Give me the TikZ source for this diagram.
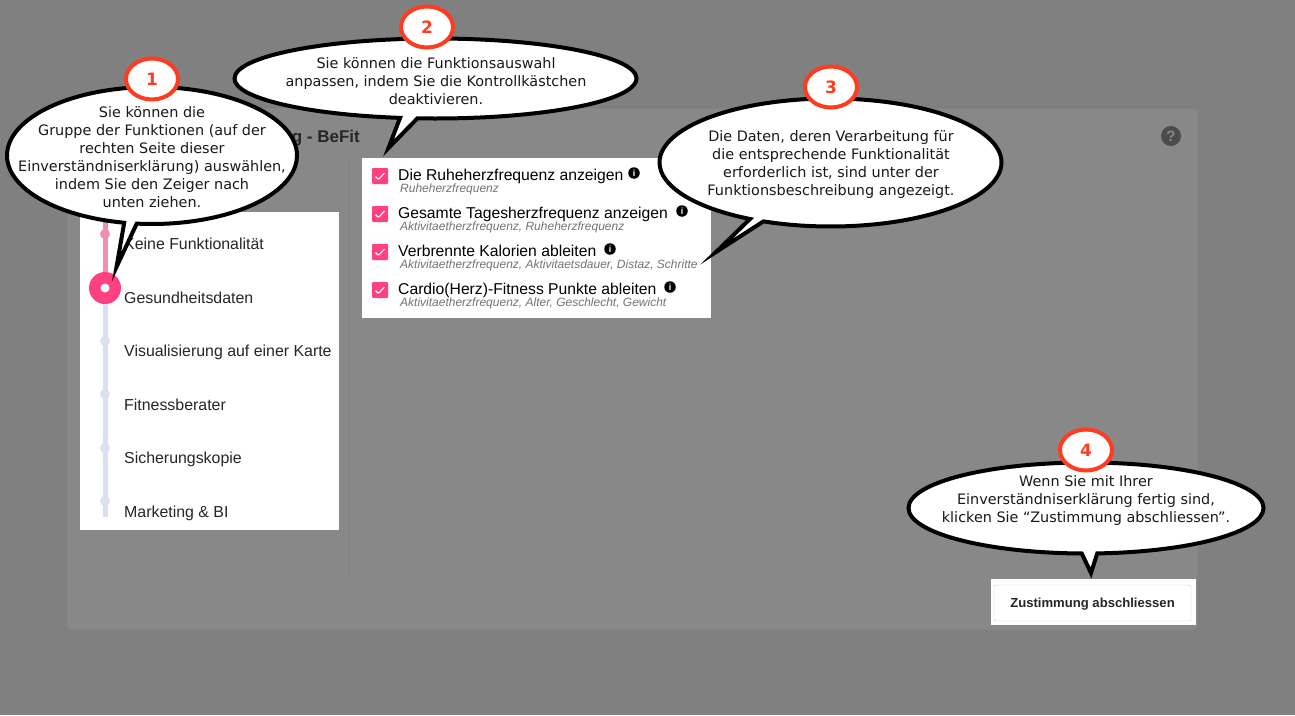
\documentclass[tikz,border=0pt]{standalone}
\usepackage{fontspec}
\setmainfont{Liberation Sans}
\newfontfamily\bubblefont{DejaVu Sans}
\usepackage{xcolor}
\usetikzlibrary{shapes.geometric,shapes.callouts,shadows,positioning}
\definecolor{pagegray}{HTML}{808080}
\definecolor{cardgray}{HTML}{888888}
\definecolor{hotpink}{HTML}{FF4081}
\definecolor{softpink}{HTML}{F08DB0}
\definecolor{softblue}{HTML}{D9E0F2}
\definecolor{badgered}{HTML}{FF3B20}
\tikzset{
    bubble/.style={ellipse callout, draw=black, fill=white, line width=4pt, miter limit=25,
        inner sep=0pt, callout pointer arc=5,
        drop shadow={shadow xshift=2pt, shadow yshift=2pt, opacity=.35}},
    bubbletext/.style={align=center, font=\bubblefont\fontsize{14.4}{18}\selectfont, text=black!90},
    badge/.style={ellipse, draw=badgered, fill=white, line width=4pt, minimum width=52pt,
        minimum height=41pt, inner sep=0pt, text=badgered,
        font=\bubblefont\bfseries\fontsize{17}{17}\selectfont},
    patch/.style={fill=white, draw=none, inner sep=0pt, anchor=north west},
    stopdot/.style={circle, minimum size=10pt, inner sep=0pt},
    steplabel/.style={anchor=base west, inner sep=0pt, text=black!85, font=\fontsize{15.9}{15.9}\selectfont},
    checkbox/.style={rectangle, rounded corners=1pt, fill=hotpink, minimum size=16pt, inner sep=0pt,
        path picture={\draw[white, line width=1.1pt]
            ([shift={(3.5pt,-8.5pt)}]path picture bounding box.north west)
            -- ++(3pt,-3pt) -- ++(6pt,6.5pt);}},
    itemlabel/.style={anchor=base west, inner sep=0pt, text=black, font=\fontsize{15.7}{15.7}\selectfont},
    itemnote/.style={anchor=base west, inner sep=0pt, text=black!55, font=\itshape\fontsize{12}{12}\selectfont},
    infodot/.style={circle, fill=black, minimum size=11.5pt, inner sep=0pt, text=white,
        font=\bfseries\fontsize{9}{9}\selectfont},
}
\begin{document}
\begin{tikzpicture}[x=1pt,y=-1pt]
    \useasboundingbox (0,0) rectangle (1295,715);
    \fill[pagegray] (0,0) rectangle (1295,715);
    \draw[cardgray!85!black, fill=cardgray, rounded corners=3pt] (67,108) rectangle (1198,630);
    \draw[black!50] (349,158) -- (349,578);
    \node[anchor=base east, inner sep=0pt, text=black!85, font=\fontsize{17}{17}\selectfont\bfseries] (title) at (360,142) {ng - BeFit};
    \node[circle, fill=black!70, minimum size=20pt, inner sep=0pt, text=cardgray, font=\bfseries\fontsize{15}{15}\selectfont] (help) at (1171,136) {?};
    % white areas
    \node[patch, minimum width=259pt, minimum height=318pt] (steps) at (80,212) {};
    \node[patch, minimum width=349pt, minimum height=160pt] (items) at (362,158) {};
    \node[patch, minimum width=205pt, minimum height=46pt] (finish) at (991,579) {};
    % slider
    \coordinate (railtop) at (105,215);
    \coordinate (railend) at (105,517);
    \node[stopdot, fill=softpink] (stopa) at (105,234) {};
    \node[circle, fill=hotpink, minimum size=32pt, inner sep=0pt] (stopb) at (105,288) {};
    \node[circle, fill=white, minimum size=9pt, inner sep=0pt] (stopbin) at (stopb) {};
    \node[stopdot, fill=softblue] (stopc) at (105,341) {};
    \node[stopdot, fill=softblue] (stopd) at (105,394) {};
    \node[stopdot, fill=softblue] (stope) at (105,448) {};
    \node[stopdot, fill=softblue] (stopf) at (105,501) {};
    \path (railtop) edge [softpink, line width=5pt] (stopb)
        (stopb) edge [softblue, line width=5pt] (railend);
    \node[steplabel] (stepa) at (124,249) {Keine Funktionalität};
    \node[steplabel] (stepb) at (124,303) {Gesundheitsdaten};
    \node[steplabel] (stepc) at (124,356) {Visualisierung auf einer Karte};
    \node[steplabel] (stepd) at (124,410) {Fitnessberater};
    \node[steplabel] (stepe) at (124,463) {Sicherungskopie};
    \node[steplabel] (stepf) at (124,517) {Marketing \& BI};
    % functions
    \node[checkbox] (boxa) at (380,176) {};
    \node[checkbox] (boxb) at (380,214) {};
    \node[checkbox] (boxc) at (380,252) {};
    \node[checkbox] (boxd) at (380,290) {};
    \node[itemlabel] (itema) at (398,180) {Die Ruheherzfrequenz anzeigen};
    \node[itemlabel] (itemb) at (398,218) {Gesamte Tagesherzfrequenz anzeigen};
    \node[itemlabel] (itemc) at (398,256) {Verbrennte Kalorien ableiten};
    \node[itemlabel] (itemd) at (398,294) {Cardio(Herz)-Fitness Punkte ableiten};
    \node[infodot] (infoa) at (634,173) {i};
    \node[infodot] (infob) at (682,211) {i};
    \node[infodot] (infoc) at (610,249) {i};
    \node[infodot] (infod) at (670,287) {i};
    \node[itemnote] (notea) at (400,192) {Ruheherzfrequenz};
    \node[itemnote] (noteb) at (400,230) {Aktivitaetherzfrequenz, Ruheherzfrequenz};
    \node[itemnote] (notec) at (400,268) {Aktivitaetherzfrequenz, Aktivitaetsdauer, Distaz, Schritte};
    \node[itemnote] (noted) at (400,306) {Aktivitaetherzfrequenz, Alter, Geschlecht, Gewicht};
    % button
    \node[draw=black!20, rounded corners=2pt, minimum width=197pt, minimum height=36pt, inner sep=0pt,
        text depth=0pt, text=black!85, font=\bfseries\fontsize{13.1}{13.1}\selectfont] (done) at (1092.5,603) {Zustimmung abschliessen};
    % bubbles
    \coordinate (tipa) at (116.5,267);
    \coordinate (tipb) at (388.5,148);
    \coordinate (tipc) at (716,252);
    \coordinate (tipd) at (1091,573);
    \node[bubble, minimum width=290pt, minimum height=137pt, callout absolute pointer={(tipa)}] (bubblea) at (152,155.5) {};
    \node[bubbletext] (texta) at (152,157) {Sie können die\\Gruppe der Funktionen (auf der\\rechten Seite dieser\\Einverständniserklärung) auswählen,\\indem Sie den Zeiger nach\\unten ziehen.};
    \node[bubble, minimum width=402pt, minimum height=80pt, callout absolute pointer={(tipb)}] (bubbleb) at (435.5,78.5) {};
    \node[bubbletext] (textb) at (436,81) {Sie können die Funktionsauswahl\\anpassen, indem Sie die Kontrollkästchen\\deaktivieren.};
    \node[bubble, minimum width=342pt, minimum height=128pt, callout absolute pointer={(tipc)}] (bubblec) at (830.5,162.5) {};
    \node[bubbletext] (textc) at (831,165) {Die Daten, deren Verarbeitung für\\die entsprechende Funktionalität\\erforderlich ist, sind unter der\\Funktionsbeschreibung angezeigt.};
    \node[bubble, minimum width=355pt, minimum height=91pt, callout absolute pointer={(tipd)}] (bubbled) at (1086,508) {};
    \node[bubbletext] (textd) at (1086,501) {Wenn Sie mit Ihrer\\Einverständniserklärung fertig sind,\\klicken Sie “Zustimmung abschliessen”.};
    % numbers
    \node[badge] (one) at (152,79) {1};
    \node[badge] (two) at (427,27) {2};
    \node[badge] (three) at (831,87) {3};
    \node[badge] (four) at (1086,450) {4};
\end{tikzpicture}
\end{document}
